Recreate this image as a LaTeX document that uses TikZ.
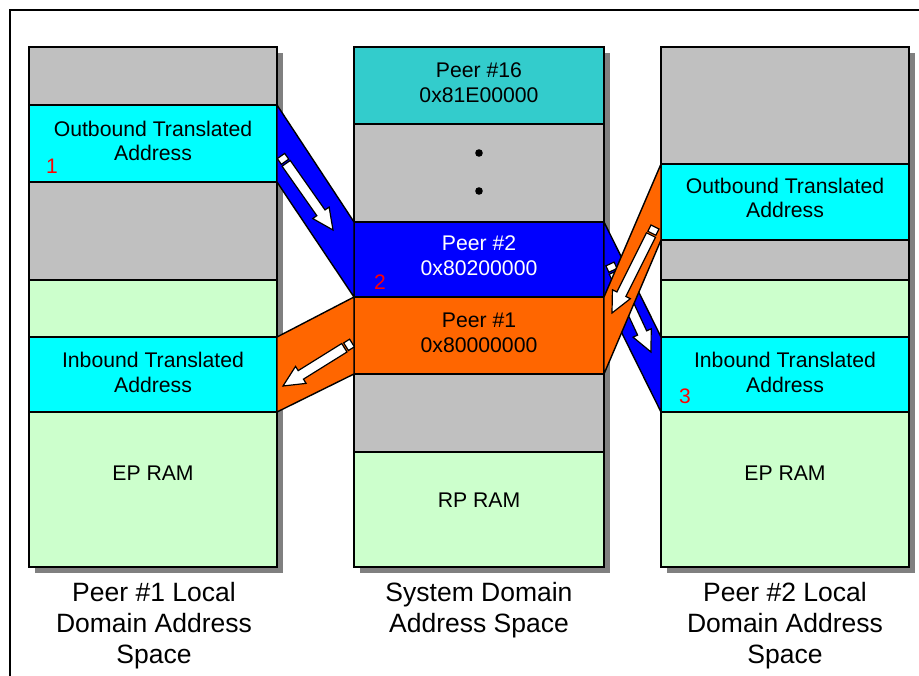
\documentclass[tikz,border=0pt]{standalone}
\usepackage{fontspec}
\setmainfont{Liberation Sans}
\usetikzlibrary{calc}
\definecolor{cgray}{HTML}{C0C0C0}
\definecolor{ccyan}{HTML}{00FFFF}
\definecolor{cgreen}{HTML}{CCFFCC}
\definecolor{cteal}{HTML}{33CCCC}
\definecolor{cblue}{HTML}{0000FF}
\definecolor{corange}{HTML}{FF6600}
\definecolor{cshadow}{HTML}{808080}
\definecolor{cred}{HTML}{FF0000}
\newcommand\bandrect[5]{\filldraw[fill=#5,band] (#1,#2) rectangle (#3,#4);}
\newcommand\wharrow[2]{%
 \filldraw[wa] ($(#1)!0pt!(#2)!4.5pt!90:(#2)$) -- ($(#1)!7pt!(#2)!4.5pt!90:(#2)$) -- ($(#1)!7pt!(#2)!4.5pt!-90:(#2)$) -- ($(#1)!0pt!(#2)!4.5pt!-90:(#2)$) -- cycle;
 \filldraw[wa] ($(#1)!9pt!(#2)!5pt!90:(#2)$) -- ($(#2)!21pt!(#1)!5pt!-90:(#1)$) -- ($(#2)!21pt!(#1)!10pt!-90:(#1)$) -- (#2) -- ($(#2)!21pt!(#1)!10pt!90:(#1)$) -- ($(#2)!21pt!(#1)!5pt!90:(#1)$) -- ($(#1)!9pt!(#2)!5pt!-90:(#2)$) -- cycle;}
\begin{document}
\begin{tikzpicture}[x=1pt,y=-1pt,
 band/.style={draw=black,line width=1.4pt},
 lbl/.style={font=\fontsize{21.2}{24.5}\selectfont,align=center,inner sep=0pt},
 big/.style={font=\fontsize{26.5}{31}\selectfont,align=center,inner sep=0pt},
 num/.style={font=\fontsize{21}{24}\selectfont,text=cred,inner sep=0pt},
 flow/.style={draw=black,line width=1.4pt,line join=miter},
 wa/.style={fill=white,draw=black,line width=1.2pt,line join=miter}]
\useasboundingbox (0,0) rectangle (919,676);
\draw[line width=1.2pt] (10,690) -- (10,10) -- (930,10);
% shadows
\fill[cshadow] (35,53) rectangle (283,573);
\fill[cshadow] (360,53) rectangle (610,573);
\fill[cshadow] (667,53) rectangle (915,573);
% left column
\bandrect{29}{47}{277}{105}{cgray}
\bandrect{29}{105}{277}{182}{ccyan}
\bandrect{29}{182}{277}{280}{cgray}
\bandrect{29}{280}{277}{337}{cgreen}
\bandrect{29}{337}{277}{412}{ccyan}
\bandrect{29}{412}{277}{567}{cgreen}
% middle column
\bandrect{354}{47}{604}{124}{cteal}
\bandrect{354}{124}{604}{222}{cgray}
\bandrect{354}{222}{604}{297}{cblue}
\bandrect{354}{297}{604}{374}{corange}
\bandrect{354}{374}{604}{452}{cgray}
\bandrect{354}{452}{604}{567}{cgreen}
% right column
\bandrect{661}{47}{909}{164}{cgray}
\bandrect{661}{164}{909}{240}{ccyan}
\bandrect{661}{240}{909}{280}{cgray}
\bandrect{661}{280}{909}{337}{cgreen}
\bandrect{661}{337}{909}{412}{ccyan}
\bandrect{661}{412}{909}{567}{cgreen}
% dots
\fill (479,153) circle (3.8);
\fill (479,191) circle (3.8);
% arrow coordinates
\coordinate (a1t) at (281,156); \coordinate (a1h) at (333,230);
\coordinate (a2t) at (352,343); \coordinate (a2h) at (283,386);
\coordinate (a3t) at (655,227); \coordinate (a3h) at (612,313);
\coordinate (a4t) at (610,264); \coordinate (a4h) at (651,352);
% left flows
\filldraw[fill=cblue,flow] (277,105) -- (354,222) -- (354,297) -- (277,182) -- cycle;
\wharrow{a1t}{a1h}
\filldraw[fill=corange,flow] (354,297) -- (354,374) -- (277,412) -- (277,337) -- cycle;
\wharrow{a2t}{a2h}
% right flows
\filldraw[fill=cblue,flow] (604,222) -- (661,337) -- (661,412) -- (604,297) -- cycle;
\wharrow{a4t}{a4h}
\filldraw[fill=corange,flow] (604,297) -- (661,164) -- (661,240) -- (604,374) -- cycle;
\wharrow{a3t}{a3h}
% texts
\node[lbl] (ob1) at (153,141) {Outbound Translated\\Address};
\node[num] (n1) at (52,166) {1};
\node[lbl] (ib1) at (153,372.5) {Inbound Translated\\Address};
\node[lbl] (ep1) at (153,473) {EP RAM};
\node[lbl] (p16) at (479,82.5) {Peer \#16\\0x81E00000};
\node[lbl,text=white] (p2) at (479,255.5) {Peer \#2\\0x80200000};
\node[num] (n2) at (380,282) {2};
\node[lbl] (p1) at (479,333) {Peer \#1\\0x80000000};
\node[lbl] (rp) at (479,500) {RP RAM};
\node[lbl] (ob2) at (785,198) {Outbound Translated\\Address};
\node[lbl] (ib2) at (785,372.5) {Inbound Translated\\Address};
\node[num] (n3) at (685,396) {3};
\node[lbl] (ep2) at (785,473) {EP RAM};
\node[big] (c1) at (154,625.5) {Peer \#1 Local\\Domain Address\\Space};
\node[big] (c2) at (479,610) {System Domain\\Address Space};
\node[big] (c3) at (785,625.5) {Peer \#2 Local\\Domain Address\\Space};
\end{tikzpicture}
\end{document}
